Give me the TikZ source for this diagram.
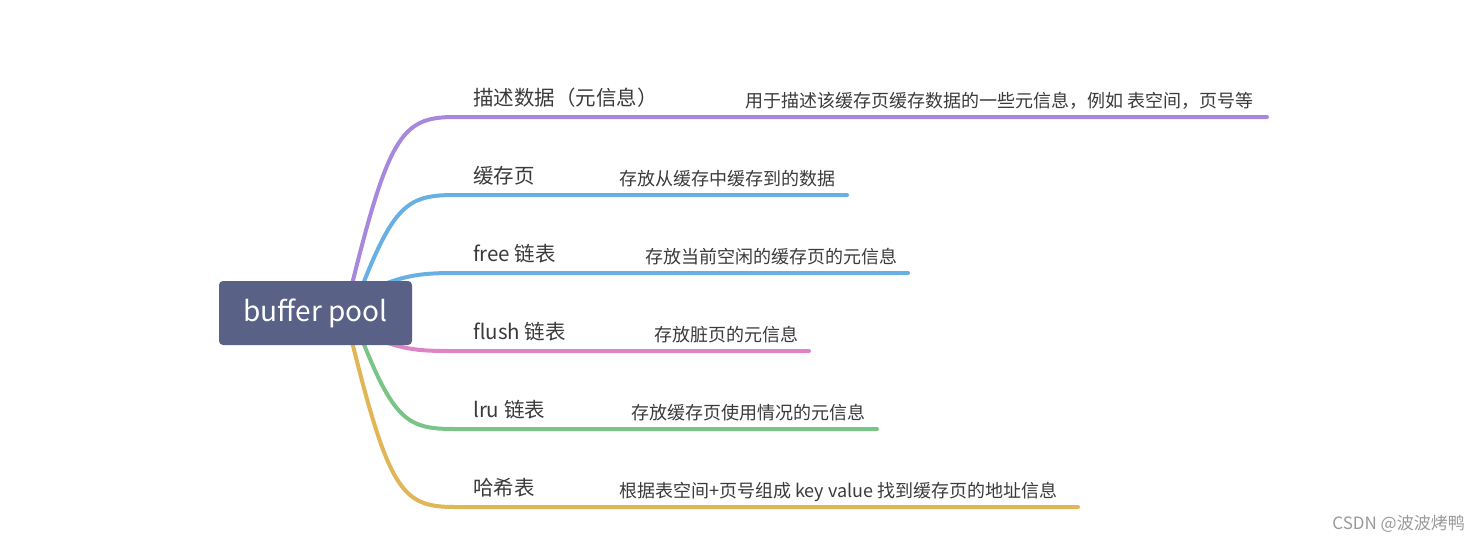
\documentclass[tikz,border=0pt]{standalone}
\usepackage{fontspec}
\setmainfont{Noto Sans CJK SC}
\newfontfamily\cjkfont{Noto Sans CJK SC}
\definecolor{rootfill}{HTML}{596186}
\definecolor{cpurple}{HTML}{A788DD}
\definecolor{cblue}{HTML}{68B0E3}
\definecolor{cpink}{HTML}{DD83C6}
\definecolor{cgreen}{HTML}{7BC487}
\definecolor{cyellow}{HTML}{E0B656}
\definecolor{txt}{HTML}{3A3A3A}
\tikzset{
  rootbox/.style={fill=rootfill, rounded corners=4pt, minimum width=193pt, minimum height=64pt, inner sep=0pt, text=white, font=\cjkfont\fontsize{28}{32}\selectfont},
  lbl/.style={anchor=base west, inner sep=0pt, text=txt, font=\cjkfont\fontsize{20.5}{24}\selectfont},
  dtl/.style={anchor=base west, inner sep=0pt, text=txt, font=\cjkfont\fontsize{18}{21}\selectfont},
  branch/.style={line width=4pt, line cap=round},
}
\begin{document}
\begin{tikzpicture}[x=1pt,y=-1pt]
\useasboundingbox (0,0) rectangle (1480,542);
% line coordinates
\coordinate (a1) at (455,117); \coordinate (b1) at (1267,117);
\coordinate (a2) at (455,195); \coordinate (b2) at (847,195);
\coordinate (a3) at (455,273); \coordinate (b3) at (908,273);
\coordinate (a4) at (455,351); \coordinate (b4) at (809,351);
\coordinate (a5) at (455,429); \coordinate (b5) at (877,429);
\coordinate (a6) at (455,507); \coordinate (b6) at (1078,507);
% branches
\draw[branch, cpurple] (345,313) .. controls (388,135) and (400,117) .. (a1) -- (b1);
\draw[branch, cblue] (352,313) .. controls (392,205) and (405,195) .. (a2) -- (b2);
\draw[branch, cblue] (360,295) .. controls (400,275) and (420,273) .. (a3) -- (b3);
\draw[branch, cpink] (360,331) .. controls (400,351) and (420,351) .. (a4) -- (b4);
\draw[branch, cgreen] (352,313) .. controls (392,421) and (405,429) .. (a5) -- (b5);
\draw[branch, cyellow] (345,313) .. controls (388,491) and (400,507) .. (a6) -- (b6);
% root
\node[rootbox] (root) at (315.5,313) {buffer pool};
% labels
\node[lbl] (l1) at (473,105) {描述数据（元信息）};
\node[lbl] (l2) at (473,183) {缓存页};
\node[lbl] (l3) at (473,261) {free 链表};
\node[lbl] (l4) at (473,339) {flush 链表};
\node[lbl] (l5) at (473,417) {lru 链表};
\node[lbl] (l6) at (473,495) {哈希表};
% details
\node[dtl] (d1) at (745,107) {用于描述该缓存页缓存数据的一些元信息，例如 表空间，页号等};
\node[dtl] (d2) at (619,185) {存放从缓存中缓存到的数据};
\node[dtl] (d3) at (645,263) {存放当前空闲的缓存页的元信息};
\node[dtl] (d4) at (654,341) {存放脏页的元信息};
\node[dtl] (d5) at (631,419) {存放缓存页使用情况的元信息};
\node[dtl] (d6) at (619,497) {根据表空间+页号组成 key value 找到缓存页的地址信息};
% watermark
\node[anchor=base east, inner sep=0pt, text=black!40, font=\cjkfont\fontsize{17}{20}\selectfont] (wm) at (1465,529) {CSDN @波波烤鸭};
\end{tikzpicture}
\end{document}
